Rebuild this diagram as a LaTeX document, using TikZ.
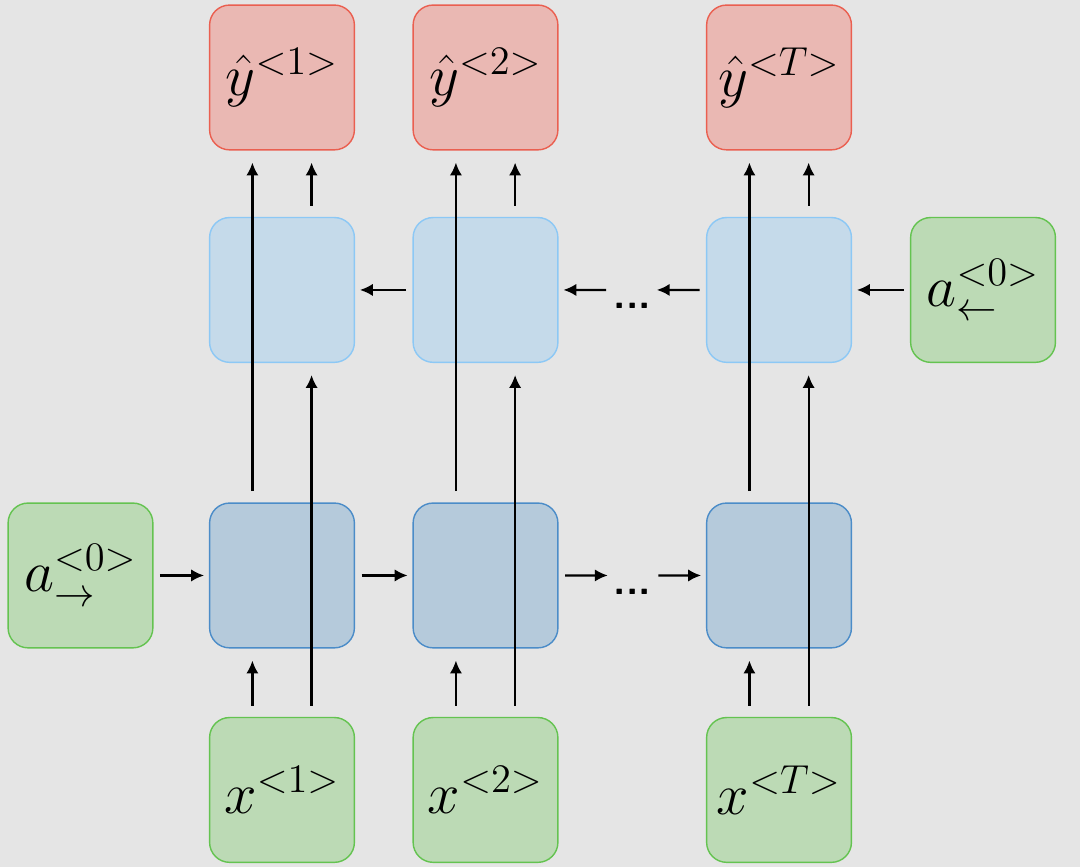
\documentclass[tikz,border=0pt]{standalone}
\usepackage{pgf}
\usetikzlibrary{arrows}
\usetikzlibrary{positioning}
\usetikzlibrary{calc}
\usetikzlibrary{arrows.meta}

\definecolor{bgGray}{RGB}{229,229,229}
\definecolor{outFill}{RGB}{234,184,179}
\definecolor{outLine}{RGB}{234,95,80}
\definecolor{bwdFill}{RGB}{197,218,234}
\definecolor{bwdLine}{RGB}{140,200,245}
\definecolor{fwdFill}{RGB}{181,202,219}
\definecolor{fwdLine}{RGB}{75,140,200}
\definecolor{inFill}{RGB}{188,218,181}
\definecolor{inLine}{RGB}{100,195,80}

\begin{document}
\begin{tikzpicture}[->,>={Latex[length=4.6pt,width=4.4pt]},line width=0.8pt,
					font=\fontsize{20}{24}\selectfont]
					\tikzstyle{box}=[draw,rounded corners=0.25cm,minimum size=1.81cm,inner sep=0pt,line width=0.5pt]
					\tikzstyle{outbox}=[box,fill=outFill,draw=outLine]
					\tikzstyle{bwdbox}=[box,fill=bwdFill,draw=bwdLine]
					\tikzstyle{fwdbox}=[box,fill=fwdFill,draw=fwdLine]
					\tikzstyle{inbox}=[box,fill=inFill,draw=inLine]
					\tikzstyle{dotsbox}=[font=\Large\sffamily\bfseries,text height=13.4pt,text depth=0pt,inner sep=0pt]
					\tikzstyle{hor}=[shorten <=0.08cm,shorten >=0.06cm]
					\tikzstyle{ver}=[shorten <=0.14cm,shorten >=0.15cm]
					
					\fill[bgGray,-] (0,0) rectangle (13.5,10.8375);
					\useasboundingbox (0,0) rectangle (13.5,10.8375);
					
					% forward row
					\node[fwdbox]  (f1) at (3.525,3.644)                {};
					\node[fwdbox]  (f2) [right of=f1,node distance=2.544cm] {};
					\node[fwdbox]  (fT) [right of=f2,node distance=3.669cm] {};
					\node[inbox]   (aF) [left of=f1,node distance=2.519cm]  {$a^{<0>}_{\rightarrow}$};
					\node[dotsbox] (dF) at ($(f2)!0.5!(fT)$)             {...};
					
					% backward row
					\node[bwdbox]  (b1) [above of=f1,node distance=3.569cm] {};
					\node[bwdbox]  (b2) [above of=f2,node distance=3.569cm] {};
					\node[bwdbox]  (bT) [above of=fT,node distance=3.569cm] {};
					\node[inbox]   (aB) [right of=bT,node distance=2.55cm]  {$a^{<0>}_{\leftarrow}$};
					\node[dotsbox] (dB) at ($(b2)!0.5!(bT)$)             {...};
					
					% outputs and inputs
					\node[outbox]  (y1) [above of=b1,node distance=2.656cm] {$\hat{y}^{<1>}$};
					\node[outbox]  (y2) [above of=b2,node distance=2.656cm] {$\hat{y}^{<2>}$};
					\node[outbox]  (yT) [above of=bT,node distance=2.656cm] {$\hat{y}^{<T>}$};
					\node[inbox]   (x1) [below of=f1,node distance=2.681cm] {$x^{<1>}$};
					\node[inbox]   (x2) [below of=f2,node distance=2.681cm] {$x^{<2>}$};
					\node[inbox]   (xT) [below of=fT,node distance=2.681cm] {$x^{<T>}$};
					
					\path (aF) edge[hor] (f1)
					(f1) edge[hor] (f2)
					(f2) edge[hor] (dF)
					(dF) edge[hor] (fT)
					(aB) edge[hor] (bT)
					(bT) edge[hor] (dB)
					(dB) edge[hor] (b2)
					(b2) edge[hor] (b1);
					
					\draw[ver] ([xshift=-0.37cm]x1.north) -- ([xshift=-0.37cm]f1.south);
					\draw[ver] ([xshift=0.37cm]x1.north) -- ([xshift=0.37cm]b1.south);
					\draw[ver] ([xshift=-0.37cm]f1.north) -- ([xshift=-0.37cm]y1.south);
					\draw[ver] ([xshift=0.37cm]b1.north) -- ([xshift=0.37cm]y1.south);
					\draw[ver] ([xshift=-0.37cm]x2.north) -- ([xshift=-0.37cm]f2.south);
					\draw[ver] ([xshift=0.37cm]x2.north) -- ([xshift=0.37cm]b2.south);
					\draw[ver] ([xshift=-0.37cm]f2.north) -- ([xshift=-0.37cm]y2.south);
					\draw[ver] ([xshift=0.37cm]b2.north) -- ([xshift=0.37cm]y2.south);
					\draw[ver] ([xshift=-0.37cm]xT.north) -- ([xshift=-0.37cm]fT.south);
					\draw[ver] ([xshift=0.37cm]xT.north) -- ([xshift=0.37cm]bT.south);
					\draw[ver] ([xshift=-0.37cm]fT.north) -- ([xshift=-0.37cm]yT.south);
					\draw[ver] ([xshift=0.37cm]bT.north) -- ([xshift=0.37cm]yT.south);
					\end{tikzpicture}
\end{document}
